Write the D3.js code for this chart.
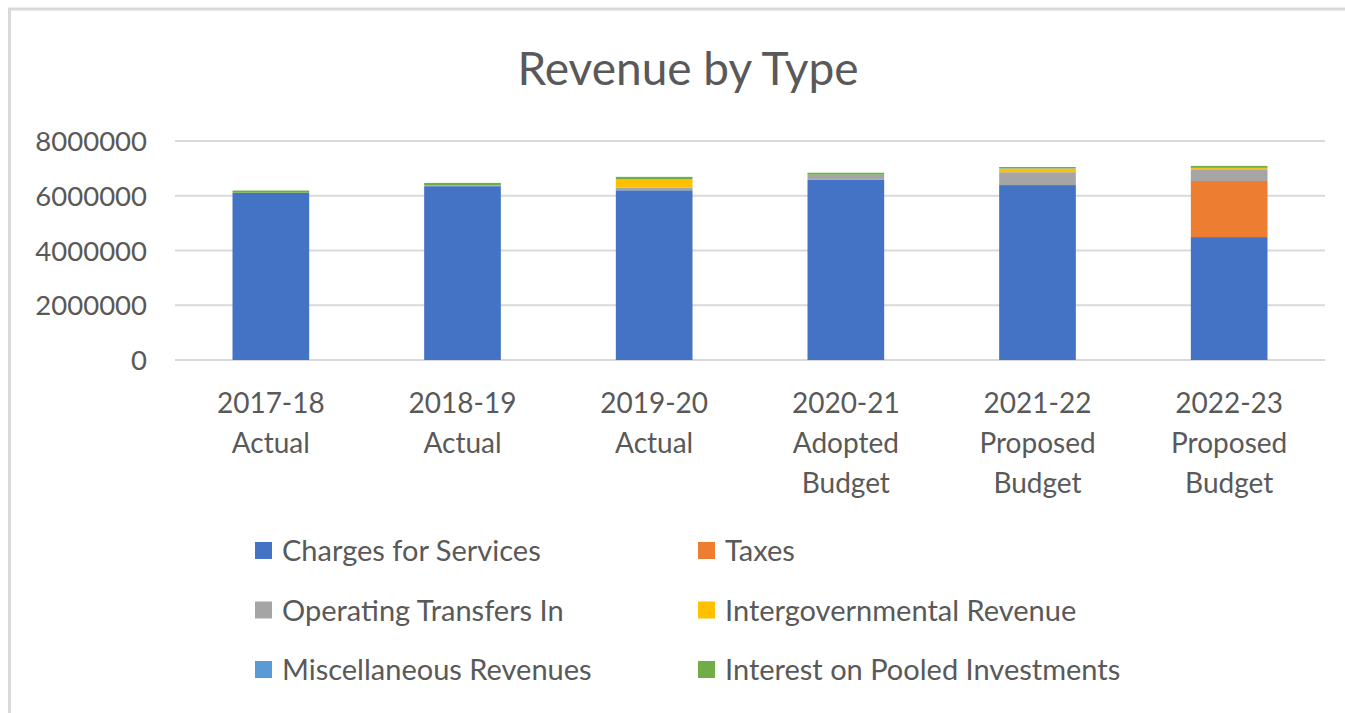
<!DOCTYPE html>
<meta charset="utf-8">
<script src="https://cdn.jsdelivr.net/npm/d3@7"></script>
<style>
body { margin: 0; background: #fff; }
text { font-family: Lato, "Open Sans", sans-serif; fill: #595959; }
</style>
<svg width="1345" height="713"></svg>
<script>

// categories (two-line labels)
var years = ["2017-18 Actual", "2018-19 Actual", "2019-20 Actual", "2020-21 Adopted Budget", "2021-22 Proposed Budget", "2022-23 Proposed Budget"];
var labelLines = [["2017-18", "Actual"], ["2018-19", "Actual"], ["2019-20", "Actual"], ["2020-21", "Adopted", "Budget"], ["2021-22", "Proposed", "Budget"], ["2022-23", "Proposed", "Budget"]];

// series, stacked bottom to top
var seriesNames = ["Charges for Services", "Taxes", "Operating Transfers In", "Intergovernmental Revenue", "Miscellaneous Revenues", "Interest on Pooled Investments"];
var charges   = [6100000, 6350000, 6200000, 6580000, 6390000, 4490000];
var taxes     = [0, 0, 0, 0, 0, 2050000];
var transfers = [0, 20000, 100000, 180000, 470000, 400000];
var intergov  = [0, 0, 290000, 0, 130000, 70000];
var misc      = [10000, 10000, 10000, 10000, 10000, 10000];
var interest  = [80000, 90000, 90000, 70000, 50000, 70000];
var yTicks = [0, 2000000, 4000000, 6000000, 8000000];

var colors = ["#4472C4", "#ED7D31", "#A5A5A5", "#FFC000", "#5B9BD5", "#70AD47"];

var svg = d3.select("svg");

// frame
svg.append("rect")
    .attr("x", 9.5).attr("y", 9)
    .attr("width", 1400).attr("height", 800)
    .attr("fill", "none")
    .attr("stroke", "#d9d9d9")
    .attr("stroke-width", 3);

var rows = years.map(function(y, i) {
    return {
        year: y,
        "Charges for Services": charges[i],
        "Taxes": taxes[i],
        "Operating Transfers In": transfers[i],
        "Intergovernmental Revenue": intergov[i],
        "Miscellaneous Revenues": misc[i],
        "Interest on Pooled Investments": interest[i]
    };
});

var x = d3.scaleBand().domain(years).range([175, 1325]).paddingInner(0.6).paddingOuter(0.3);
var y = d3.scaleLinear().domain([0, 8000000]).range([360, 141]);

// title
svg.append("text")
    .attr("x", 688).attr("y", 85)
    .attr("text-anchor", "middle")
    .style("font-size", "46px")
    .text("Revenue by Type");

// gridlines
svg.append("g")
    .selectAll("line")
    .data(yTicks)
    .enter().append("line")
    .attr("x1", 175).attr("x2", 1325)
    .attr("y1", function(d) { return y(d); })
    .attr("y2", function(d) { return y(d); })
    .attr("stroke", "#d9d9d9")
    .attr("stroke-width", 2);

// y axis labels
svg.append("g")
    .selectAll("text")
    .data(yTicks)
    .enter().append("text")
    .attr("x", 147)
    .attr("y", function(d) { return y(d) + 10; })
    .attr("text-anchor", "end")
    .style("font-size", "27.5px")
    .text(function(d) { return d3.format("d")(d); });

// stacked bars
var stack = d3.stack().keys(seriesNames);
svg.append("g")
    .selectAll("g")
    .data(stack(rows))
    .enter().append("g")
    .attr("fill", function(d, i) { return colors[i]; })
    .selectAll("rect")
    .data(function(d) { return d; })
    .enter().append("rect")
    .attr("x", function(d) { return x(d.data.year); })
    .attr("width", x.bandwidth())
    .attr("y", function(d) { return y(d[1]); })
    .attr("height", function(d) { return y(d[0]) - y(d[1]); });

// x labels
var xl = svg.append("g")
    .selectAll("text")
    .data(years)
    .enter().append("text")
    .attr("text-anchor", "middle")
    .style("font-size", "28px")
    .attr("x", function(d) { return x(d) + x.bandwidth() / 2; });
xl.selectAll("tspan")
    .data(function(d, i) { return labelLines[i]; })
    .enter().append("tspan")
    .attr("x", function() { return d3.select(this.parentNode).attr("x"); })
    .attr("y", function(d, i) { return 413 + i * 40; })
    .text(function(d) { return d; });

// legend
var legend = svg.append("g")
    .selectAll("g")
    .data(seriesNames)
    .enter().append("g")
    .attr("transform", function(d, i) {
        return "translate(" + (i % 2 == 0 ? 255 : 698) + "," + (542 + Math.floor(i / 2) * 59.5) + ")";
    });
legend.append("rect")
    .attr("width", 17).attr("height", 17)
    .attr("fill", function(d, i) { return colors[i]; });
legend.append("text")
    .attr("x", 27).attr("y", 19)
    .style("font-size", "29px")
    .text(function(d) { return d; });

</script>
